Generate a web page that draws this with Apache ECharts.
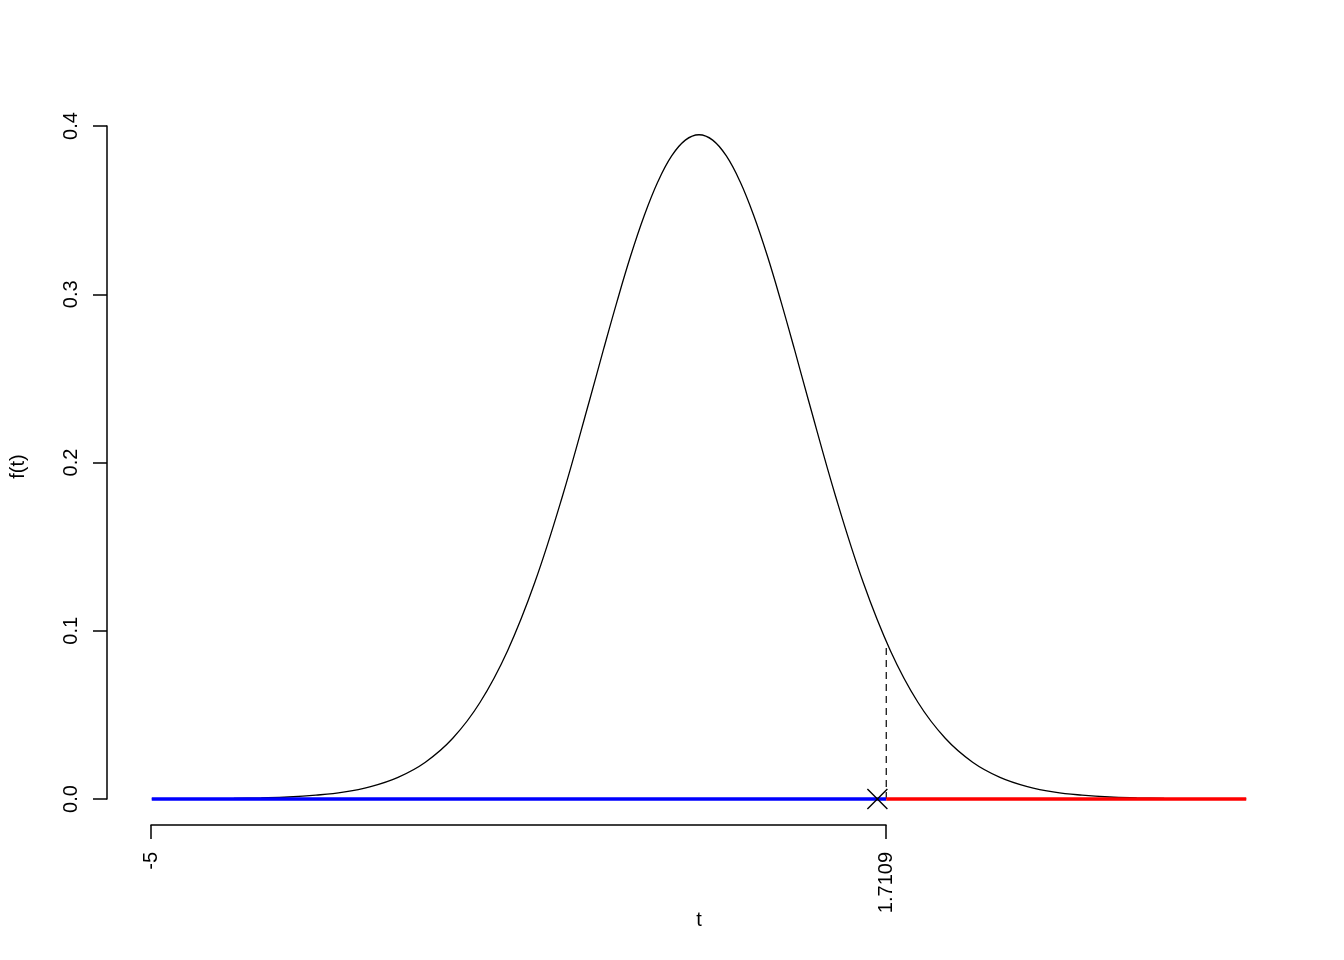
<!DOCTYPE html>
<html>
<head>
<meta charset="utf-8">
<script src="https://cdn.jsdelivr.net/npm/echarts@6/dist/echarts.min.js"></script>
<style>
html,body{margin:0;padding:0;background:#fff;}
#chart{width:1344px;height:960px;}
</style>
</head>
<body>
<div id="chart"></div>
<script>
// t values and density
const tValues = [-5,-4.75,-4.5,-4.25,-4,-3.75,-3.5,-3.25,-3,-2.75,-2.5,-2.25,-2,-1.75,-1.5,-1.25,-1,-0.875,-0.75,-0.625,-0.5,-0.375,-0.25,-0.125,
  0,0.125,0.25,0.375,0.5,0.625,0.75,0.875,1,1.25,1.5,1.75,2,2.25,2.5,2.75,3,3.25,3.5,3.75,4,4.25,4.5,4.75,5];
const density = [0.0001,0.0001,0.0002,0.0004,0.0007,0.0012,0.0023,0.0041,0.0074,0.0129,0.0219,0.0361,0.0575,0.0880,0.1288,0.1795,0.2370,0.2666,0.2955,0.3227,0.3468,0.3670,0.3822,0.3916,
  0.3948,0.3916,0.3822,0.3670,0.3468,0.3227,0.2955,0.2666,0.2370,0.1795,0.1288,0.0880,0.0575,0.0361,0.0219,0.0129,0.0074,0.0041,0.0023,0.0012,0.0007,0.0004,0.0002,0.0001,0.0001];
const xLimits = [-5, 5];
const critical = 1.7109;
const criticalDensity = 0.092;
const observed = 1.63;
const yTicks = [0, 0.1, 0.2, 0.3, 0.4];
const xTicks = [-5, critical];
const xTitle = 't';
const yTitle = 'f(t)';

const FONT = 'Liberation Sans, Arial, sans-serif';
const curve = tValues.map((t, i) => [t, density[i]]);

const chart = echarts.init(document.getElementById('chart'), null, {renderer: 'canvas'});
chart.setOption({
  animation: false,
  backgroundColor: '#fff',
  grid: [
    {left: 107, right: 54, top: 108, bottom: 135},
    {left: 107, width: 10, top: 126, bottom: 161},
    {left: 151, right: 458, top: 815, bottom: 135}
  ],
  xAxis: [
    {gridIndex: 0, type: 'value', min: -5.4, max: 5.4, show: true,
     axisLine: {show: false}, axisTick: {show: false}, axisLabel: {show: false}, splitLine: {show: false},
     name: xTitle, nameLocation: 'middle', nameGap: 85,
     nameTextStyle: {fontFamily: FONT, fontSize: 20, color: '#000'}},
    {gridIndex: 1, type: 'value', show: false},
    {gridIndex: 2, type: 'value', min: xTicks[0], max: xTicks[1], position: 'bottom',
     axisLine: {show: true, lineStyle: {color: '#000', width: 1.5}},
     axisTick: {show: true, length: 14, inside: false, customValues: xTicks, lineStyle: {color: '#000', width: 1.5}},
     axisLabel: {show: true, customValues: xTicks, rotate: 90, margin: 27, fontFamily: FONT, fontSize: 20, color: '#000',
       formatter: v => String(v)},
     splitLine: {show: false}}
  ],
  yAxis: [
    {gridIndex: 0, type: 'value', min: -0.01545, max: 0.4107, show: true,
     axisLine: {show: false}, axisTick: {show: false}, axisLabel: {show: false}, splitLine: {show: false},
     name: yTitle, nameLocation: 'middle', nameGap: 80, nameRotate: 90,
     nameTextStyle: {fontFamily: FONT, fontSize: 20, color: '#000'}},
    {gridIndex: 1, type: 'value', min: 0, max: 0.4, position: 'left',
     axisLine: {show: true, lineStyle: {color: '#000', width: 1.5}},
     axisTick: {show: true, length: 14, inside: false, customValues: yTicks, lineStyle: {color: '#000', width: 1.5}},
     axisLabel: {show: true, customValues: yTicks, rotate: 90, margin: 26, fontFamily: FONT, fontSize: 20, color: '#000',
       formatter: v => v.toFixed(1)},
     splitLine: {show: false}},
    {gridIndex: 2, type: 'value', show: false}
  ],
  series: [
    {type: 'line', xAxisIndex: 0, yAxisIndex: 0, data: curve, smooth: 0.4, showSymbol: false,
     lineStyle: {color: '#000', width: 1.3}, z: 2},
    {type: 'line', xAxisIndex: 0, yAxisIndex: 0, data: [[critical, 0], [critical, criticalDensity]], showSymbol: false,
     lineStyle: {color: '#000', width: 1.2, type: [7, 5]}, z: 3},
    {type: 'line', xAxisIndex: 0, yAxisIndex: 0, data: [[xLimits[0], 0], [critical, 0]], showSymbol: false,
     lineStyle: {color: '#0000ff', width: 3.5, cap: 'butt'}, z: 4},
    {type: 'line', xAxisIndex: 0, yAxisIndex: 0, data: [[critical, 0], [xLimits[1], 0]], showSymbol: false,
     lineStyle: {color: '#ff0000', width: 3.5, cap: 'butt'}, z: 4},
    {type: 'scatter', xAxisIndex: 0, yAxisIndex: 0, data: [[observed, 0]],
     symbol: 'path://M0,0L10,10M10,0L0,10', symbolSize: 20,
     itemStyle: {color: 'rgba(0,0,0,0)', borderColor: '#000', borderWidth: 1.4, opacity: 1}, z: 5}
  ]
});
</script>
</body>
</html>
